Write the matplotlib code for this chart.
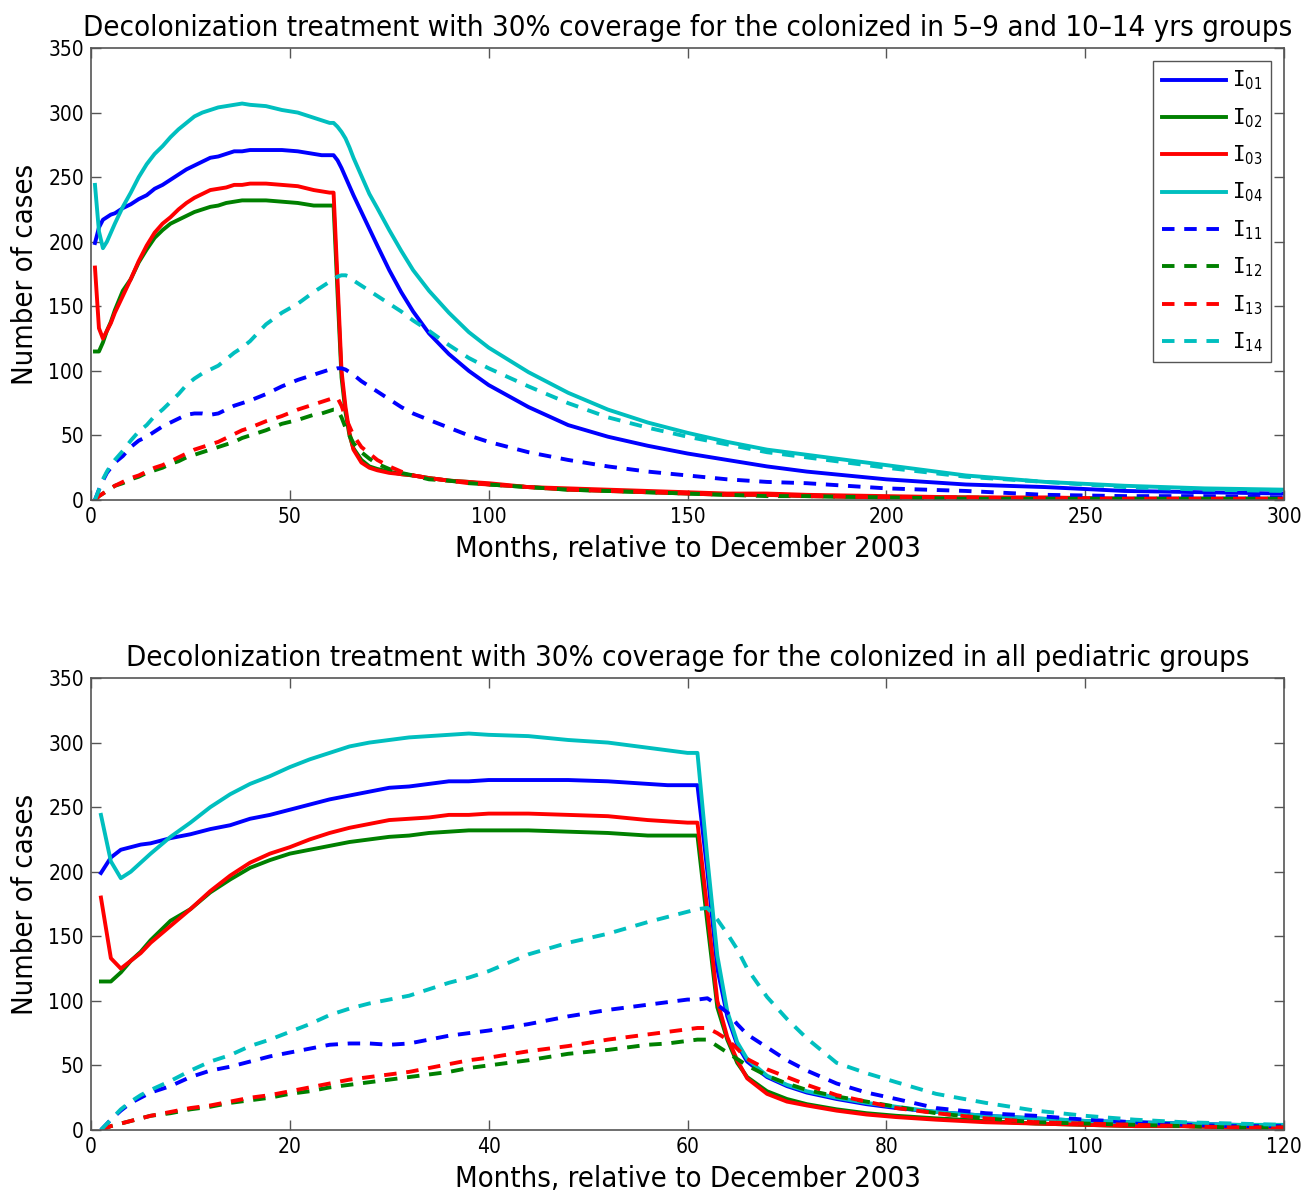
import matplotlib
matplotlib.use('Agg')
import matplotlib.pyplot as plt

# months 1..61 (same in both panels)
months_early = [1, 2, 3, 4, 5, 6, 8, 10, 12, 14, 16, 18, 20, 22, 24, 26, 28, 30, 32, 34,
                36, 38, 40, 44, 48, 52, 56, 58, 60, 61]
i01_early = [199, 211, 217, 219, 221, 222, 226, 229, 233, 236, 241, 244, 248, 252, 256, 259, 262, 265, 266, 268,
             270, 270, 271, 271, 271, 270, 268, 267, 267, 267]
i02_early = [115, 115, 122, 131, 138, 147, 162, 171, 184, 194, 203, 209, 214, 217, 220, 223, 225, 227, 228, 230,
             231, 232, 232, 232, 231, 230, 228, 228, 228, 228]
i03_early = [180, 133, 125, 131, 137, 145, 158, 171, 185, 197, 207, 214, 219, 225, 230, 234, 237, 240, 241, 242,
             244, 244, 245, 245, 244, 243, 240, 239, 238, 238]
i04_early = [244, 208, 195, 200, 207, 214, 227, 238, 250, 260, 268, 274, 281, 287, 292, 297, 300, 302, 304, 305,
             306, 307, 306, 305, 302, 300, 296, 294, 292, 292]
i11_early = [0, 8, 15, 21, 25, 29, 34, 41, 46, 49, 53, 57, 60, 63, 66, 67, 67, 66, 67, 70,
             73, 75, 77, 82, 88, 93, 97, 99, 101, 101]
i12_early = [0, 3, 5, 7, 9, 11, 13, 16, 18, 21, 23, 25, 28, 30, 33, 35, 37, 39, 41, 43,
             45, 48, 50, 54, 59, 62, 66, 67, 69, 70]
i13_early = [0, 3, 5, 7, 9, 11, 14, 17, 19, 22, 25, 27, 30, 33, 36, 39, 41, 43, 45, 48,
             51, 54, 56, 61, 65, 70, 74, 76, 78, 79]
i14_early = [0, 8, 16, 22, 27, 31, 38, 46, 53, 58, 65, 70, 76, 82, 89, 94, 98, 101, 104, 109,
             114, 118, 123, 136, 145, 152, 161, 165, 169, 171]

# top panel: 5-9 and 10-14 yrs groups, after month 61
months_top = [62, 63, 64, 65, 66, 68, 70, 72, 75, 78, 81, 85, 90, 95, 100, 110, 120, 130, 140, 150,
              160, 170, 180, 200, 220, 240, 260, 280, 300]
i01_top = [263, 257, 250, 243, 236, 223, 210, 197, 178, 161, 146, 129, 113, 100, 89, 72, 58, 49, 42, 36,
           31, 26, 22, 16, 12, 10, 7, 6, 5]
i02_top = [160, 95, 68, 50, 40, 31, 26, 24, 22, 20, 19, 17, 15, 14, 12, 10, 8, 7, 6, 5,
           4, 4, 3, 2, 2, 1, 1, 1, 1]
i03_top = [170, 100, 72, 52, 39, 29, 25, 23, 21, 20, 19, 17, 15, 14, 13, 10, 9, 8, 7, 6,
           5, 5, 4, 3, 2, 2, 1, 1, 1]
i04_top = [289, 285, 280, 273, 265, 251, 237, 226, 209, 193, 178, 162, 145, 130, 118, 99, 83, 70, 60, 52,
           45, 39, 35, 27, 19, 14, 11, 9, 8]
i11_top = [102, 102, 101, 99, 97, 92, 88, 84, 78, 72, 67, 62, 56, 50, 45, 37, 31, 26, 22, 19,
           16, 14, 13, 9, 7, 4, 3, 3, 2]
i12_top = [70, 64, 56, 50, 44, 37, 32, 28, 24, 21, 19, 16, 15, 13, 12, 10, 8, 7, 6, 5,
           4, 3, 3, 2, 1, 1, 1, 1, 1]
i13_top = [79, 73, 64, 57, 50, 41, 36, 31, 26, 22, 19, 17, 15, 13, 12, 10, 8, 7, 6, 5,
           4, 4, 3, 2, 2, 1, 1, 1, 1]
i14_top = [173, 174, 174, 173, 170, 166, 162, 158, 152, 146, 139, 131, 120, 110, 102, 88, 75, 64, 56, 49,
           43, 37, 33, 25, 18, 14, 10, 8, 7]

# bottom panel: all pediatric groups, after month 61
months_bot = [62, 63, 64, 65, 66, 68, 70, 72, 75, 78, 81, 85, 90, 95, 100, 105, 110, 115, 120]
i01_bot = [200, 125, 88, 66, 53, 41, 34, 29, 24, 20, 17, 14, 11, 9, 7, 6, 5, 4, 3]
i02_bot = [160, 95, 70, 52, 41, 30, 24, 20, 16, 13, 11, 9, 7, 5, 4, 3, 3, 2, 2]
i03_bot = [170, 100, 72, 54, 40, 28, 22, 19, 15, 12, 10, 8, 6, 5, 4, 3, 3, 2, 2]
i04_bot = [210, 135, 92, 68, 55, 42, 35, 30, 25, 21, 18, 14, 11, 9, 7, 6, 5, 4, 4]
i11_bot = [102, 97, 91, 82, 74, 64, 54, 46, 36, 29, 24, 17, 13, 11, 8, 6, 4, 3, 3]
i12_bot = [70, 65, 60, 55, 50, 42, 36, 31, 26, 22, 18, 13, 9, 6, 5, 4, 3, 2, 2]
i13_bot = [79, 75, 70, 63, 55, 47, 41, 35, 27, 22, 17, 13, 9, 6, 5, 4, 3, 2, 2]
i14_bot = [172, 163, 152, 140, 125, 103, 86, 71, 52, 44, 37, 28, 21, 15, 11, 8, 6, 5, 4]

labels = ['01', '02', '03', '04', '11', '12', '13', '14']
colors = ['#0000ff', '#008000', '#ff0000', '#00bfbf'] * 2
early = [i01_early, i02_early, i03_early, i04_early, i11_early, i12_early, i13_early, i14_early]
top = [i01_top, i02_top, i03_top, i04_top, i11_top, i12_top, i13_top, i14_top]
bot = [i01_bot, i02_bot, i03_bot, i04_bot, i11_bot, i12_bot, i13_bot, i14_bot]

plt.rcParams['font.family'] = ['DejaVu Sans']
plt.rcParams['font.stretch'] = 'condensed'
plt.rcParams['mathtext.fontset'] = 'dejavusans'
plt.rcParams['lines.scale_dashes'] = False

fig = plt.figure(figsize=(13.13, 11.93), dpi=100)
W, H = 1313, 1193
ax1 = fig.add_axes([91 / W, 1 - 500 / H, (1284 - 91) / W, 452 / H])
ax2 = fig.add_axes([91 / W, 1 - 1130 / H, (1284 - 91) / W, 452 / H])


def draw(ax, months_late, late, xmax, xticks, title):
    for k in range(8):
        x = months_early + months_late
        y = early[k] + late[k]
        if k < 4:
            ax.plot(x, y, color=colors[k], lw=2.8, label=r'$\mathtt{I}_{' + labels[k] + '}$')
        else:
            ax.plot(x, y, color=colors[k], lw=2.8, dashes=(9, 7),
                    label=r'$\mathtt{I}_{' + labels[k] + '}$')
    ax.set_xlim(0, xmax)
    ax.set_ylim(0, 350)
    ax.set_xticks(xticks)
    ax.set_yticks(range(0, 351, 50))
    ax.tick_params(direction='in', length=7, width=1, top=True, right=True,
                   labelsize=15, color='#555555', pad=5)
    for s in ax.spines.values():
        s.set_color('#555555')
        s.set_linewidth(1.2)
    ax.set_title(title, fontsize=21.1, pad=9)
    ax.set_xlabel('Months, relative to December 2003', fontsize=21, labelpad=6)
    ax.set_ylabel('Number of cases', fontsize=21, labelpad=7)


draw(ax1, months_top, top, 300, range(0, 301, 50),
     'Decolonization treatment with 30% coverage for the colonized in 5\u20139 and 10\u201314 yrs groups')
draw(ax2, months_bot, bot, 120, range(0, 121, 20),
     'Decolonization treatment with 30% coverage for the colonized in all pediatric groups')

leg = ax1.legend(loc='upper right', fontsize=15, handlelength=3.1, labelspacing=0.66,
                 fancybox=False, framealpha=1, edgecolor='#555555', borderaxespad=0.6,
                 handletextpad=0.3, borderpad=0.4)
leg.get_frame().set_linewidth(1.0)

fig.savefig('out.png', dpi=100)
